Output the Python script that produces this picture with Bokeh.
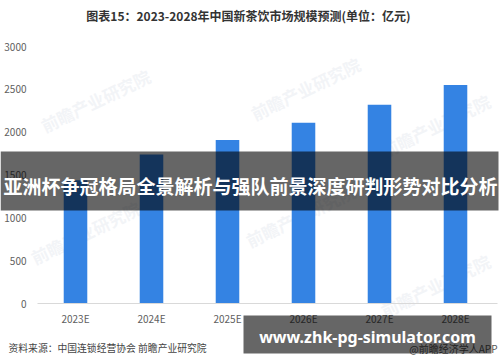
import numpy as np
from bokeh.plotting import figure
from bokeh.models import Range1d, Label, BoxAnnotation, ColumnDataSource, FixedTicker
from bokeh.embed import file_html
from bokeh.resources import INLINE

categories = ["2023E", "2024E", "2025E", "2026E", "2027E", "2028E"]
values = [1440, 1740, 1910, 2110, 2320, 2550]
y_ticks = [0, 500, 1000, 1500, 2000, 2500, 3000]

title_text = "图表15：2023-2028年中国新茶饮市场规模预测(单位：亿元)"
source_text = "资料来源：中国连锁经营协会 前瞻产业研究院"
credit_text = "@前瞻经济学人APP"
banner_text = "亚洲杯争冠格局全景解析与强队前景深度研判形势对比分析"
site_text = "www.zhk-pg-simulator.com"
watermark_text = "前瞻产业研究院"

CJK = "Noto Sans CJK SC"
W, H = 500, 362

# frame fills the canvas; plot area: x 37..493 px, y 46 (3000) .. 303 (0) px
xpos = np.arange(len(categories)) + 0.5
ppu_x = 76.0
x_start = -37 / ppu_x
x_end = x_start + W / ppu_x
ppu_y = (303 - 46) / 3000.0
y_start = -(H - 303) / ppu_y
y_end = y_start + H / ppu_y

p = figure(width=W, height=H, x_range=Range1d(x_start, x_end), y_range=Range1d(y_start, y_end),
           output_backend="svg", toolbar_location=None,
           min_border=0, min_border_left=0, min_border_right=0, min_border_top=0, min_border_bottom=0)
p.outline_line_color = None
p.background_fill_color = "white"
p.border_fill_color = "white"
p.xgrid.grid_line_color = None
p.ygrid.grid_line_color = None

# watermarks (underlay)
for (wx, wy) in [(95, 100), (305, 88), (435, 125), (85, 232), (300, 215), (435, 285)]:
    p.add_layout(Label(x=wx, y=wy, x_units="canvas", y_units="canvas", text=watermark_text,
                       text_font=CJK, text_font_size="17px", text_font_style="bold",
                       text_color="#eaedf2", text_alpha=0.6, angle=0.45,
                       text_align="center", text_baseline="middle", level="underlay"))

src = ColumnDataSource(dict(x=xpos, top=values))
p.vbar(x="x", top="top", width=0.31, source=src, fill_color="#3483e3", line_color=None)

p.yaxis.fixed_location = 0
p.yaxis.ticker = FixedTicker(ticks=y_ticks)
p.yaxis.axis_line_color = None
p.yaxis.major_tick_line_color = None
p.yaxis.minor_tick_line_color = None
p.yaxis.major_label_standoff = 5
p.yaxis.major_label_text_font_size = "10px"
p.yaxis.major_label_text_color = "#606060"
p.yaxis.major_label_text_font = CJK

p.xaxis.fixed_location = 0
p.xaxis.bounds = (0, 6.05)
p.xaxis.ticker = FixedTicker(ticks=list(xpos))
p.xaxis.major_label_overrides = {float(x): c for x, c in zip(xpos, categories)}
p.xaxis.axis_line_color = "#d9d9d9"
p.xaxis.major_tick_line_color = None
p.xaxis.minor_tick_line_color = None
p.xaxis.major_label_standoff = 1
p.xaxis.major_label_text_font_size = "10px"
p.xaxis.major_label_text_color = "#606060"
p.xaxis.major_label_text_font = CJK

p.add_layout(Label(x=248, y=15, x_units="canvas", y_units="canvas", text=title_text,
                   text_font=CJK, text_font_size="12px", text_font_style="bold",
                   text_color="#333333", text_align="center", text_baseline="middle"))
p.add_layout(Label(x=8, y=347, x_units="canvas", y_units="canvas", text=source_text,
                   text_font=CJK, text_font_size="9.8px", text_color="#444444",
                   text_align="left", text_baseline="middle"))
p.add_layout(Label(x=497, y=348, x_units="canvas", y_units="canvas", text=credit_text,
                   text_font=CJK, text_font_size="10px", text_color="#555555",
                   text_align="right", text_baseline="middle"))

p.add_layout(BoxAnnotation(left=0, right=498, top=151, bottom=210,
                           left_units="canvas", right_units="canvas", top_units="canvas", bottom_units="canvas",
                           fill_color="black", fill_alpha=0.6, line_color=None))
p.add_layout(Label(x=250, y=185, x_units="canvas", y_units="canvas", text=banner_text,
                   text_font=CJK, text_font_size="19px", text_font_style="bold",
                   text_color="white", text_align="center", text_baseline="middle"))

p.add_layout(BoxAnnotation(left=243, right=491, top=315, bottom=353,
                           left_units="canvas", right_units="canvas", top_units="canvas", bottom_units="canvas",
                           fill_color="black", fill_alpha=0.6, line_color=None))
p.add_layout(Label(x=367, y=336, x_units="canvas", y_units="canvas", text=site_text,
                   text_font="Noto Sans", text_font_size="16px", text_font_style="bold",
                   text_color="white", text_align="center", text_baseline="middle"))

open("out.html", "w").write(file_html(p, INLINE))
